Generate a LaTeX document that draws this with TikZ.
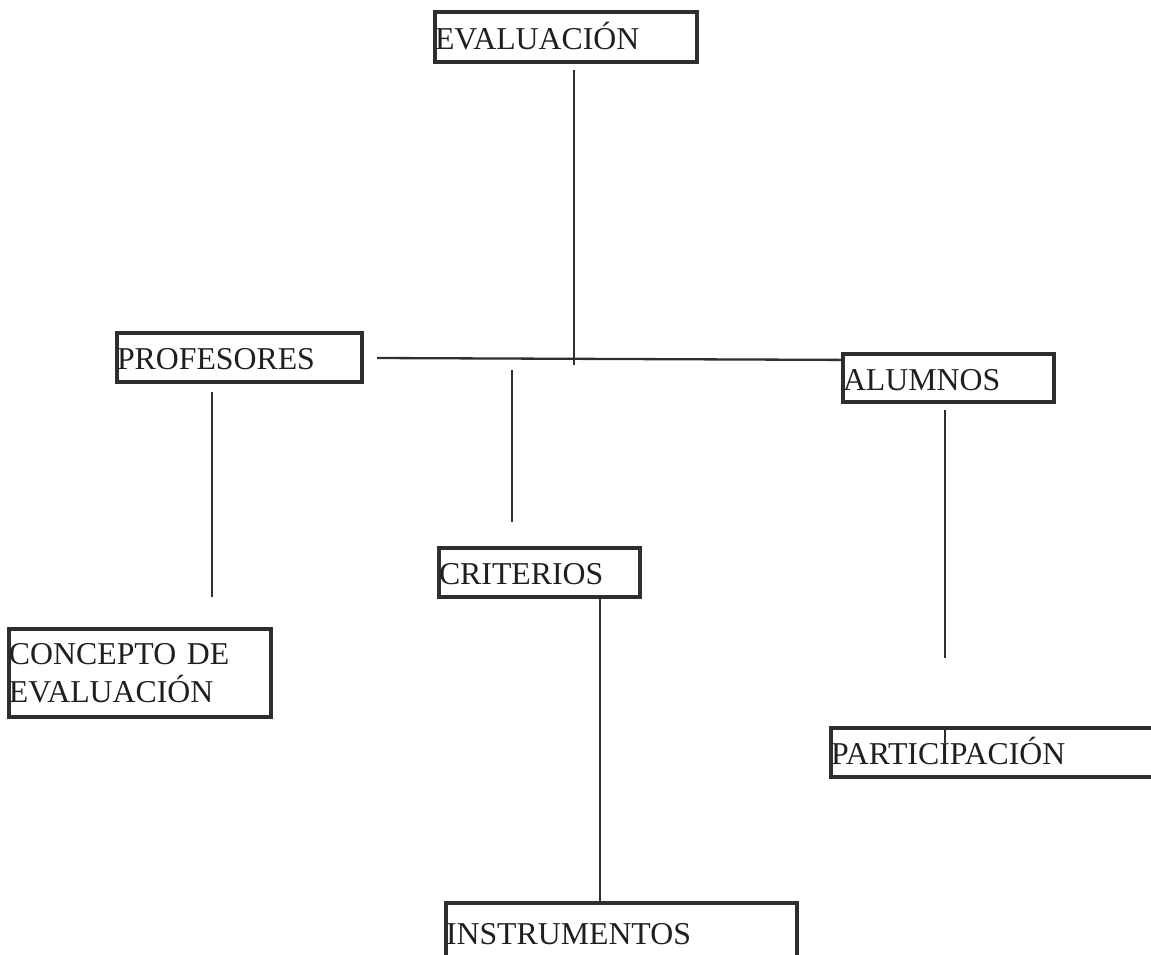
\documentclass[tikz,border=0pt]{standalone}
\usepackage{fontspec}
\setmainfont{Liberation Serif}
\begin{document}
\begin{tikzpicture}[x=1pt,y=-1pt,
  inkc/.style={draw=black!82, line width=4.2pt},
  boxnode/.style={inkc, rectangle, inner xsep=0pt, inner ysep=0pt, align=left,
    text=black!88, font=\fontsize{31.8}{38}\selectfont},
  onebox/.style={boxnode, text height=24pt, text depth=0pt},
  link/.style={draw=black!82, line width=2.3pt}]
\useasboundingbox (0,0) rectangle (1151,954);
\node[onebox, text width=262pt, minimum width=262pt, minimum height=50pt] (ev) at (566,37) {EVALUACIÓN};
\node[onebox, text width=245pt, minimum width=245pt, minimum height=49pt] (prof) at (239.5,357.5) {PROFESORES};
\node[onebox, text width=211pt, minimum width=211pt, minimum height=48pt] (alum) at (948.5,378) {ALUMNOS};
\node[onebox, text width=201pt, minimum width=201pt, minimum height=49pt] (crit) at (539.5,572.5) {CRITERIOS};
\node[boxnode, text width=262pt, minimum width=262pt, minimum height=88pt] (conc) at (140,673) {CONCEPTO DE\\EVALUACIÓN};
\node[onebox, text width=334pt, minimum width=334pt, minimum height=49pt] (part) at (998,752.5) {PARTICIPACIÓN};
\node[onebox, text width=351pt, minimum width=351pt, minimum height=58pt] (instr) at (621.5,932) {INSTRUMENTOS};
% junction and free line ends
\coordinate (j) at (574,365);
\coordinate (hl) at (377,358);
\coordinate (m1) at (512,370);
\coordinate (m2) at (512,522);
\coordinate (p1) at (212,392);
\coordinate (p2) at (212,597);
\coordinate (a1) at (945,410);
\coordinate (a2) at (945,658);
\coordinate (t2) at (945,743);
\coordinate (ci) at (600,0);
% connectors
\draw[link] ([yshift=-6pt]ev.south -| j) -- (j);
\draw[link] (hl) -- ([yshift=-8pt]alum.north west);
\draw[link] (m1) -- (m2);
\draw[link] (p1) -- (p2);
\draw[link] (a1) -- (a2);
\draw[link] (part.north -| t2) -- (t2);
\draw[link] (crit.south -| ci) -- (instr.north -| ci);
\end{tikzpicture}
\end{document}
